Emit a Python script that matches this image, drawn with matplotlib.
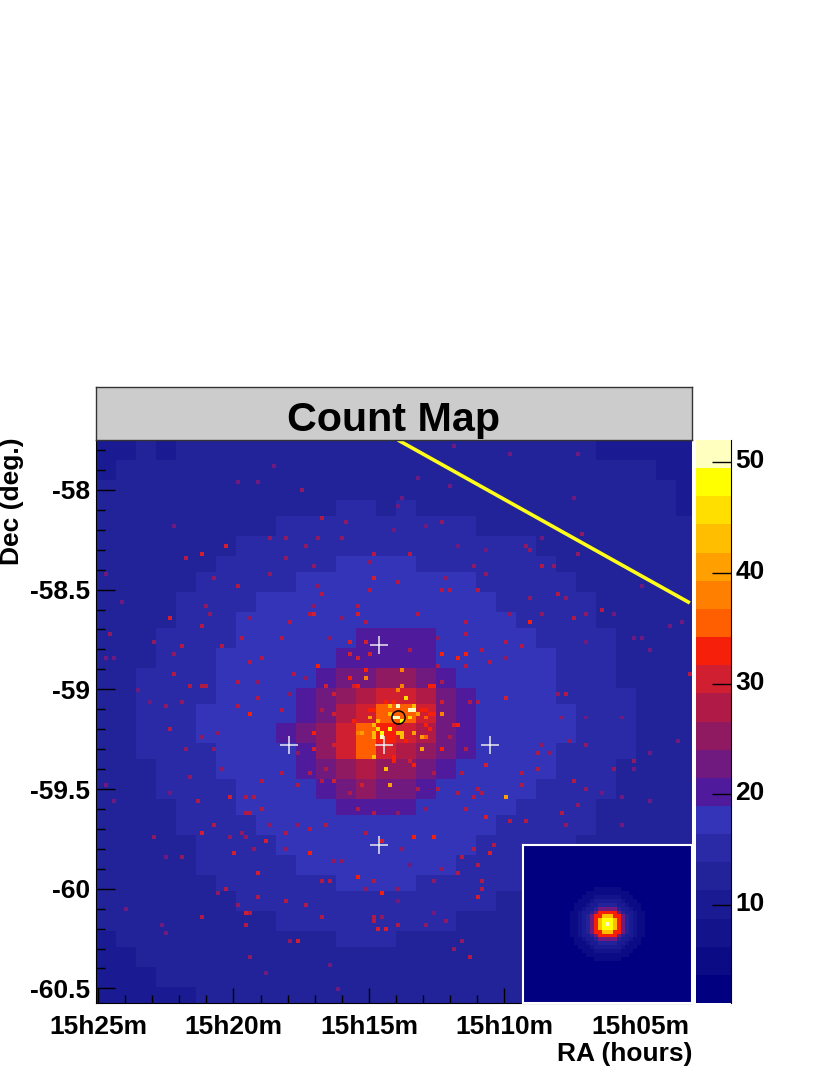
import numpy as np
import matplotlib
matplotlib.use('Agg')
from matplotlib import pyplot as plt
from matplotlib.colors import ListedColormap, BoundaryNorm
from matplotlib.transforms import ScaledTranslation

plt.rcParams['font.family'] = ['Liberation Sans', 'DejaVu Sans']
plt.rcParams['font.weight'] = 'bold'

W, H = 830, 1075

# band colours of the colour scale, bottom to top
band_colors = ['#000080', '#0b0b86', '#13138c', '#1a1a92', '#222299', '#2a2aa6', '#3434b8',
               '#501a9c', '#701a80', '#901a62', '#b01a46', '#d01f30', '#f51f0a', '#ff5f00',
               '#ff7f00', '#ffa000', '#ffbf00', '#ffdf00', '#ffff00', '#ffffbf']
scale_min, scale_max = 1.15, 52

ra_ticks = [25, 20, 15, 10, 5]
ra_labels = ['15h25m', '15h20m', '15h15m', '15h10m', '15h05m']
dec_ticks = [-58, -58.5, -59, -59.5, -60, -60.5]
dec_labels = ['-58', '-58.5', '-59', '-59.5', '-60', '-60.5']
cb_ticks = [10, 20, 30, 40, 50]

n_rows, n_cols = 141, 149

# local count level on a coarse 30x30 grid, estimated by eye
count_blocks = [
    [10.5, 11, 11.5, 11, 12, 12, 12, 12, 12, 12, 12.5, 12, 12.5, 12.5, 12.5, 12, 12.5, 12.5, 12, 12.5, 12, 12, 12, 11.5, 11.5, 11, 11, 11, 10.5, 10],
    [11, 11.5, 12, 12, 12, 12, 12.5, 12, 12.5, 12.5, 12.5, 12.5, 12.5, 12.5, 13.5, 12.5, 12.5, 12.5, 12.5, 12.5, 12.5, 12.5, 12, 12.5, 12, 12, 11.5, 11.5, 11, 10.5],
    [11.5, 12, 12, 12, 12.5, 12, 12.5, 12.5, 12.5, 12.5, 13.5, 13.5, 13.5, 13.5, 13.5, 13.5, 13.5, 12.5, 13.5, 12.5, 12.5, 12.5, 12.5, 12.5, 12.5, 12, 12, 11.5, 11.5, 11],
    [11.5, 12, 12, 12.5, 12.5, 12.5, 12.5, 13.5, 13.5, 13.5, 13.5, 13.5, 14.5, 14.5, 13.5, 14.5, 13.5, 13.5, 13.5, 13.5, 13.5, 13.5, 12.5, 12.5, 12.5, 12.5, 12, 12, 11.5, 11],
    [12, 12, 12.5, 12.5, 12.5, 13.5, 13.5, 13.5, 13.5, 14.5, 14.5, 14.5, 14.5, 14.5, 14.5, 14.5, 14.5, 14.5, 14.5, 13.5, 13.5, 13.5, 13.5, 13.5, 12.5, 12.5, 12.5, 12, 12, 11.5],
    [12, 12.5, 12.5, 12.5, 13.5, 13.5, 13.5, 14.5, 14.5, 14.5, 15.5, 15.5, 15.5, 15.5, 15.5, 15.5, 15.5, 15.5, 14.5, 14.5, 14.5, 14.5, 13.5, 13.5, 13.5, 12.5, 12.5, 12.5, 12, 11.5],
    [12, 12.5, 12.5, 13.5, 13.5, 13.5, 14.5, 14.5, 15.5, 15.5, 15.5, 15.5, 16.5, 16.5, 16.5, 16.5, 15.5, 15.5, 15.5, 15.5, 14.5, 14.5, 14.5, 13.5, 13.5, 13.5, 12.5, 12.5, 12, 11.5],
    [12.5, 12.5, 12.5, 13.5, 13.5, 14.5, 14.5, 15.5, 15.5, 15.5, 16.5, 16.5, 16.5, 16.5, 17.5, 16.5, 16.5, 16.5, 16.5, 15.5, 15.5, 14.5, 14.5, 14.5, 13.5, 13.5, 12.5, 12.5, 12.5, 12],
    [12.5, 12.5, 13.5, 13.5, 14.5, 14.5, 15.5, 15.5, 16.5, 16.5, 16.5, 17.5, 17.5, 17.5, 17.5, 17.5, 17.5, 17.5, 16.5, 16.5, 15.5, 15.5, 15.5, 14.5, 14.5, 13.5, 13.5, 12.5, 12.5, 12],
    [12.5, 12.5, 13.5, 13.5, 14.5, 14.5, 15.5, 16.5, 16.5, 16.5, 17.5, 17.5, 18.5, 18.5, 18.5, 18.5, 18.5, 17.5, 17.5, 16.5, 16.5, 15.5, 15.5, 14.5, 14.5, 13.5, 13.5, 12.5, 12.5, 12],
    [12.5, 13.5, 13.5, 14.5, 14.5, 15.5, 15.5, 16.5, 16.5, 17.5, 17.5, 18.5, 18.5, 19.5, 19.5, 19.5, 19.5, 18.5, 17.5, 17.5, 16.5, 16.5, 15.5, 15.5, 14.5, 14.5, 13.5, 13.5, 12.5, 12],
    [12.5, 13.5, 13.5, 14.5, 14.5, 15.5, 16.5, 16.5, 16.5, 17.5, 17.5, 18.5, 19.5, 19.5, 20.5, 20.5, 19.5, 18.5, 17.5, 17.5, 16.5, 16.5, 16.5, 15.5, 14.5, 14.5, 13.5, 13.5, 12.5, 12],
    [12.5, 13.5, 14.5, 14.5, 15.5, 15.5, 16.5, 16.5, 17.5, 17.5, 18.5, 19.5, 21.5, 23.5, 24.5, 25.5, 23.5, 20.5, 18.5, 17.5, 17.5, 16.5, 16.5, 15.5, 15.5, 14.5, 13.5, 13.5, 13, 12],
    [13.5, 13.5, 14.5, 14.5, 15.5, 15.5, 16.5, 17.5, 17.5, 18.5, 19.5, 21.5, 24.5, 27.5, 30.5, 31.5, 27.5, 22.5, 19.5, 18.5, 17.5, 17.5, 16.5, 15.5, 15.5, 14.5, 14.5, 13.5, 13, 12],
    [13.5, 13.5, 14.5, 14.5, 15.5, 16.5, 16.5, 17.5, 17.5, 18.5, 20.5, 23.5, 28.5, 31.5, 34.5, 35.5, 30.5, 23.5, 19.5, 18.5, 18.5, 17.5, 16.5, 16.5, 15.5, 14.5, 14.5, 13.5, 13, 12],
    [13.5, 13.5, 14.5, 14.5, 15.5, 16.5, 16.5, 17.5, 17.5, 19.5, 21.5, 25.5, 31.5, 34.5, 32.5, 30.5, 27.5, 22.5, 19.5, 18.5, 18.5, 17.5, 16.5, 16.5, 15.5, 14.5, 14.5, 13.5, 13, 12],
    [13.5, 13.5, 14.5, 14.5, 15.5, 15.5, 16.5, 17.5, 17.5, 18.5, 20.5, 24.5, 30.5, 34.5, 30.5, 27.5, 24.5, 21.5, 19.5, 18.5, 17.5, 17.5, 16.5, 15.5, 15.5, 14.5, 14.5, 13.5, 13, 12],
    [12.5, 13.5, 13.5, 14.5, 15.5, 15.5, 16.5, 16.5, 17.5, 18.5, 19.5, 22.5, 26.5, 28.5, 26.5, 24.5, 21.5, 19.5, 18.5, 18.5, 17.5, 16.5, 16.5, 15.5, 15.5, 14.5, 13.5, 13.5, 12.5, 12],
    [12.5, 13.5, 13.5, 14.5, 14.5, 15.5, 15.5, 16.5, 17.5, 17.5, 18.5, 20.5, 22.5, 24.5, 23.5, 21.5, 19.5, 18.5, 18.5, 17.5, 16.5, 16.5, 15.5, 15.5, 14.5, 14.5, 13.5, 13.5, 12.5, 12],
    [12.5, 12.5, 13.5, 13.5, 14.5, 14.5, 15.5, 16.5, 16.5, 17.5, 17.5, 18.5, 19.5, 20.5, 20.5, 19.5, 18.5, 17.5, 17.5, 16.5, 16.5, 15.5, 15.5, 14.5, 14.5, 13.5, 13.5, 12.5, 12.5, 12],
    [12.5, 12.5, 13.5, 13.5, 14.5, 14.5, 15.5, 15.5, 16.5, 16.5, 17.5, 17.5, 18.5, 18.5, 18.5, 18.5, 17.5, 17.5, 16.5, 16.5, 15.5, 15.5, 14.5, 14.5, 14.5, 13.5, 13.5, 12.5, 12.5, 11.5],
    [12.5, 12.5, 12.5, 13.5, 13.5, 14.5, 14.5, 15.5, 15.5, 16.5, 16.5, 17.5, 17.5, 17.5, 17.5, 17.5, 17.5, 16.5, 16.5, 15.5, 15.5, 14.5, 14.5, 14.5, 13.5, 13.5, 12.5, 12.5, 12.5, 11.5],
    [12, 12.5, 12.5, 13.5, 13.5, 14.5, 14.5, 14.5, 15.5, 15.5, 16.5, 16.5, 16.5, 17.5, 17.5, 16.5, 16.5, 16.5, 15.5, 15.5, 14.5, 14.5, 14.5, 13.5, 13.5, 12.5, 12.5, 12.5, 11.5, 11.5],
    [12, 12.5, 12.5, 12.5, 13.5, 13.5, 14.5, 14.5, 14.5, 15.5, 15.5, 15.5, 16.5, 16.5, 16.5, 16.5, 15.5, 15.5, 15.5, 14.5, 14.5, 14.5, 13.5, 13.5, 13.5, 12.5, 12.5, 11.5, 11.5, 11.5],
    [11.5, 12, 12.5, 12.5, 12.5, 13.5, 13.5, 14.5, 14.5, 14.5, 14.5, 15.5, 15.5, 15.5, 15.5, 15.5, 15.5, 14.5, 14.5, 14.5, 13.5, 13.5, 13.5, 12.5, 12.5, 12.5, 11.5, 11.5, 11.5, 11.5],
    [11.5, 11.5, 12, 12.5, 12.5, 12.5, 13.5, 13.5, 13.5, 14.5, 14.5, 14.5, 14.5, 14.5, 14.5, 14.5, 14.5, 14.5, 13.5, 13.5, 13.5, 13.5, 12.5, 12.5, 12.5, 11.5, 11.5, 11.5, 11.5, 10.5],
    [10.5, 11.5, 11.5, 12, 12.5, 12.5, 12.5, 12.5, 13.5, 13.5, 13.5, 13.5, 14.5, 14.5, 14.5, 13.5, 13.5, 13.5, 13.5, 13.5, 12.5, 12.5, 12.5, 12.5, 11.5, 11.5, 11.5, 11.5, 10.5, 10.5],
    [10.5, 10.5, 11.5, 11.5, 12, 12, 12.5, 12.5, 12.5, 12.5, 13.5, 13.5, 13.5, 13.5, 13.5, 13.5, 13.5, 12.5, 12.5, 12.5, 12.5, 12.5, 11.5, 11.5, 11.5, 11.5, 11.5, 10.5, 10.5, 10.5],
    [10.5, 10.5, 10.5, 11.5, 11.5, 11.5, 12, 12, 12.5, 12.5, 12.5, 12.5, 12.5, 12.5, 12.5, 12.5, 12.5, 12.5, 12.5, 11.5, 11.5, 11.5, 11.5, 11.5, 11.5, 10.5, 10.5, 10.5, 10.5, 10.5],
    [9.5, 10.5, 10.5, 10.5, 10.5, 11.5, 11.5, 11.5, 11.5, 12, 12, 12.5, 12.5, 12.5, 12.5, 12.5, 12, 11.5, 11.5, 11.5, 11.5, 11.5, 11.5, 10.5, 10.5, 10.5, 10.5, 10.5, 9.5, 9.5],
]

hot_core = [
    (77, 64, 46), (79, 67, 50), (78, 67, 50), (75, 66, 50), (73, 66, 42), (73, 68, 44), (74, 65, 32), (75, 69, 50),
    (74, 69, 50), (76, 70, 48), (79, 66, 44), (80, 68, 40), (78, 69, 46), (86, 68, 38), (68, 69, 40), (70, 70, 44),
    (69, 71, 44), (70, 72, 46), (69, 73, 44), (71, 73, 48), (71, 74, 50), (69, 74, 42), (73, 72, 48), (76, 73, 42),
    (75, 73, 42), (76, 74, 42), (79, 73, 40), (81, 74, 40), (66, 73, 40), (69, 79, 42), (81, 77, 40), (72, 82, 42),
    (73, 86, 40), (75, 62, 38), (76, 61, 38), (76, 57, 38), (67, 59, 38), (63, 59, 34), (83, 61, 34), (86, 53, 34),
    (90, 54, 34), (92, 53, 32), (68, 53, 30), (63, 53, 30), (67, 57, 32), (86, 60, 32), (90, 71, 34), (54, 73, 34),
    (97, 81, 30), (57, 61, 30), (64, 61, 30), (68, 67, 34), (64, 70, 34), (72, 76, 34), (74, 79, 32), (74, 80, 34),
    (77, 75, 34), (83, 72, 32), (82, 69, 34), (83, 68, 34), (82, 67, 34), (81, 67, 34), (86, 65, 32), (72, 65, 34),
    (69, 67, 34), (67, 76, 36), (68, 76, 36), (79, 81, 32), (59, 85, 32), (59, 76, 30),
]
hot_upper_left = [
    (32, 26, 31), (26, 28, 30), (22, 29, 28), (35, 36, 29), (29, 34, 26), (18, 44, 30), (3, 48, 26), (26, 46, 28),
    (14, 50, 26), (54, 43, 30), (53, 43, 28), (54, 41, 26), (55, 56, 33), (67, 59, 38), (65, 61, 33), (57, 61, 30),
    (69, 34, 30), (68, 37, 28), (65, 41, 28), (65, 43, 30), (63, 50, 30), (67, 50, 30), (65, 54, 30), (59, 63, 30),
    (43, 33, 26), (56, 38, 28), (56, 19, 27), (62, 20, 26), (51, 12, 25), (44, 6, 24), (47, 24, 26), (55, 24, 26),
    (52, 26, 26), (43, 24, 25), (35, 10, 23), (40, 10, 23), (19, 21, 23), (27, 41, 26), (28, 43, 25), (48, 45, 28),
    (38, 44, 26), (36, 49, 27), (46, 49, 27), (58, 49, 26), (61, 44, 26), (67, 45, 27), (19, 58, 27), (23, 61, 27),
    (26, 61, 29), (27, 61, 29), (35, 60, 27), (40, 60, 26), (49, 58, 27), (52, 59, 26), (38, 68, 32), (35, 66, 29),
    (40, 64, 28), (46, 67, 28), (48, 63, 26), (21, 65, 26), (17, 66, 25), (2, 54, 23), (4, 54, 23), (10, 62, 22),
    (13, 65, 23), (69, 28, 27), (68, 30, 25), (61, 24, 26), (55, 36, 26), (54, 31, 25), (47, 29, 26), (41, 54, 27),
    (38, 55, 28), (31, 51, 27), (21, 51, 27), (19, 53, 25), (6, 40, 22), (2, 33, 22), (68, 69, 41), (61, 67, 28),
    (59, 68, 30), (56, 67, 27),
]
hot_upper_right = [
    (108, 45, 33), (76, 57, 38), (75, 62, 38), (84, 61, 33), (126, 42, 28), (119, 44, 28), (148, 58, 28), (78, 28, 27),
    (80, 9, 24), (88, 11, 24), (103, 3, 23), (120, 3, 23), (89, 1, 23), (119, 14, 24), (121, 23, 26), (111, 24, 24),
    (107, 26, 26), (108, 27, 25), (111, 31, 27), (114, 31, 26), (95, 37, 29), (86, 37, 28), (88, 37, 28), (75, 35, 27),
    (87, 34, 26), (94, 31, 26), (97, 27, 24), (115, 38, 28), (108, 39, 26), (117, 39, 26), (111, 43, 26), (103, 43, 26),
    (92, 45, 28), (80, 43, 27), (102, 50, 29), (106, 51, 27), (92, 48, 28), (85, 49, 26), (96, 52, 28), (78, 52, 29),
    (98, 55, 27), (92, 56, 28), (85, 56, 29), (102, 54, 25), (122, 43, 26), (129, 43, 23), (134, 49, 24), (138, 52, 23),
    (136, 49, 23), (122, 50, 24), (86, 60, 27), (102, 64, 30), (115, 63, 26), (117, 63, 28), (93, 65, 28), (95, 65, 28),
    (82, 69, 35), (84, 68, 33), (86, 65, 30), (116, 69, 26), (122, 69, 24), (131, 69, 24), (120, 28, 25), (136, 36, 23),
    (146, 45, 23), (143, 46, 23), (76, 14, 22), (75, 16, 22), (74, 22, 23), (82, 21, 23), (86, 20, 26), (90, 26, 24),
    (97, 33, 25),
]
hot_lower_left = [
    (54, 73, 33), (54, 77, 30), (65, 73, 38), (65, 109, 32), (71, 113, 32), (70, 122, 31), (72, 122, 31), (40, 108, 31),
    (53, 103, 33), (34, 103, 31), (42, 100, 30), (47, 98, 29), (26, 98, 30), (29, 96, 27), (33, 89, 30), (37, 89, 28),
    (39, 89, 28), (41, 92, 29), (37, 93, 27), (38, 93, 27), (46, 83, 29), (41, 85, 27), (50, 86, 27), (56, 85, 29),
    (59, 85, 31), (59, 76, 30), (57, 82, 28), (53, 83, 27), (23, 84, 26), (22, 77, 26), (29, 77, 25), (26, 74, 26),
    (18, 72, 27), (30, 73, 26), (14, 99, 26), (21, 104, 26), (32, 112, 27), (30, 113, 25), (37, 118, 30), (38, 118, 29),
    (35, 116, 26), (40, 114, 27), (47, 115, 27), (52, 116, 28), (56, 119, 28), (37, 121, 28), (26, 119, 27), (50, 125, 30),
    (48, 125, 26), (38, 129, 26), (67, 98, 27), (71, 100, 31), (69, 93, 29), (65, 92, 28), (63, 88, 29), (66, 86, 30),
    (57, 96, 27), (53, 97, 27), (50, 96, 26), (43, 96, 26), (36, 98, 26), (37, 99, 26), (33, 99, 25), (39, 102, 26),
    (47, 102, 25), (59, 105, 26), (61, 105, 26), (56, 110, 28), (58, 110, 28), (69, 110, 27), (67, 112, 25), (69, 119, 28),
    (71, 119, 25), (69, 120, 27), (17, 104, 24), (2, 86, 24), (4, 90, 22), (7, 117, 22), (16, 121, 22), (17, 123, 22),
    (42, 133, 24), (60, 137, 24), (58, 131, 22), (25, 90, 28), (18, 88, 23), (31, 82, 26), (50, 78, 25),
]
hot_lower_right = [
    (102, 89, 40), (79, 99, 33), (84, 99, 32), (86, 77, 34), (78, 80, 30), (90, 88, 29), (95, 87, 29), (96, 88, 29),
    (106, 83, 27), (106, 86, 27), (110, 82, 27), (119, 85, 27), (116, 93, 28), (117, 96, 26), (107, 95, 28), (103, 95, 27),
    (97, 94, 30), (99, 101, 29), (98, 103, 30), (91, 104, 28), (94, 102, 28), (95, 106, 28), (90, 108, 28), (86, 107, 26),
    (84, 110, 26), (96, 110, 28), (96, 112, 27), (95, 114, 30), (93, 129, 29), (87, 120, 26), (91, 125, 26), (89, 127, 25),
    (82, 121, 25), (75, 121, 27), (75, 112, 25), (75, 115, 24), (84, 118, 24), (76, 102, 25), (78, 106, 24), (91, 83, 28),
    (84, 83, 29), (85, 87, 27), (80, 87, 27), (94, 89, 27), (82, 92, 26), (75, 93, 26), (92, 92, 27), (110, 78, 27),
    (113, 78, 26), (111, 76, 25), (118, 75, 25), (122, 76, 25), (134, 80, 26), (138, 78, 24), (129, 82, 25), (122, 87, 25),
    (126, 88, 24), (120, 91, 25), (131, 89, 24), (131, 96, 24), (138, 90, 23), (145, 75, 23), (134, 82, 22), (92, 77, 28),
    (88, 74, 29), (89, 71, 30), (82, 71, 34), (82, 74, 36),
]

# white crosses and source circle (RA minutes, Dec)
cross_ra = [14.63, 17.95, 14.45, 10.53, 14.63]
cross_dec = [-58.777, -59.28, -59.28, -59.28, -59.78]
source_ra, source_dec = [13.93], [-59.14]
line_ra = [13.93, 3.16]
line_dec = [-57.75, -58.567]

# PSF inset, central 21x21 bins by eye; rest of the inset stays at the low level
psf_radial_levels = [52, 48, 42, 32, 22, 13, 9, 6.5, 5, 4, 2]
psf_index = [
    [10, 10, 10, 10, 10, 10, 10, 10, 10, 10, 10, 10, 10, 10, 10, 10, 10, 10, 10, 10, 10],
    [10, 10, 10, 10, 10, 10, 10, 9, 9, 9, 9, 9, 9, 9, 10, 10, 10, 10, 10, 10, 10],
    [10, 10, 10, 10, 10, 9, 9, 8, 8, 8, 8, 8, 8, 8, 9, 9, 10, 10, 10, 10, 10],
    [10, 10, 10, 10, 9, 8, 8, 7, 7, 7, 7, 7, 7, 7, 8, 8, 9, 10, 10, 10, 10],
    [10, 10, 10, 9, 8, 8, 7, 6, 6, 6, 6, 6, 6, 6, 7, 8, 8, 9, 10, 10, 10],
    [10, 10, 9, 8, 8, 7, 6, 6, 5, 5, 5, 5, 5, 6, 6, 7, 8, 8, 9, 10, 10],
    [10, 10, 9, 8, 7, 6, 6, 5, 4, 4, 4, 4, 4, 5, 6, 6, 7, 8, 9, 10, 10],
    [10, 9, 8, 7, 6, 6, 5, 4, 3, 3, 3, 3, 3, 4, 5, 6, 6, 7, 8, 9, 10],
    [10, 9, 8, 7, 6, 5, 4, 3, 3, 2, 2, 2, 3, 3, 4, 5, 6, 7, 8, 9, 10],
    [10, 9, 8, 7, 6, 5, 4, 3, 2, 1, 1, 1, 2, 3, 4, 5, 6, 7, 8, 9, 10],
    [10, 9, 8, 7, 6, 5, 4, 3, 2, 1, 0, 1, 2, 3, 4, 5, 6, 7, 8, 9, 10],
    [10, 9, 8, 7, 6, 5, 4, 3, 2, 1, 1, 1, 2, 3, 4, 5, 6, 7, 8, 9, 10],
    [10, 9, 8, 7, 6, 5, 4, 3, 3, 2, 2, 2, 3, 3, 4, 5, 6, 7, 8, 9, 10],
    [10, 9, 8, 7, 6, 6, 5, 4, 3, 3, 3, 3, 3, 4, 5, 6, 6, 7, 8, 9, 10],
    [10, 10, 9, 8, 7, 6, 6, 5, 4, 4, 4, 4, 4, 5, 6, 6, 7, 8, 9, 10, 10],
    [10, 10, 9, 8, 8, 7, 6, 6, 5, 5, 5, 5, 5, 6, 6, 7, 8, 8, 9, 10, 10],
    [10, 10, 10, 9, 8, 8, 7, 6, 6, 6, 6, 6, 6, 6, 7, 8, 8, 9, 10, 10, 10],
    [10, 10, 10, 10, 9, 8, 8, 7, 7, 7, 7, 7, 7, 7, 8, 8, 9, 10, 10, 10, 10],
    [10, 10, 10, 10, 10, 9, 9, 8, 8, 8, 8, 8, 8, 8, 9, 9, 10, 10, 10, 10, 10],
    [10, 10, 10, 10, 10, 10, 10, 9, 9, 9, 9, 9, 9, 9, 10, 10, 10, 10, 10, 10, 10],
    [10, 10, 10, 10, 10, 10, 10, 10, 10, 10, 10, 10, 10, 10, 10, 10, 10, 10, 10, 10, 10],
]


def px_rect(x0, y0, x1, y1):
    # pixel box of the picture -> figure fractions
    return [x0 / W, 1 - y1 / H, (x1 - x0) / W, (y1 - y0) / H]


cmap = ListedColormap(band_colors)
norm = BoundaryNorm(np.linspace(scale_min, scale_max, 21), cmap.N)

fig = plt.figure(figsize=(W / 100, H / 100), dpi=100)

block_rows = np.arange(n_rows) * 30 // n_rows
block_cols = np.arange(n_cols) * 30 // n_cols
counts = np.array(count_blocks, dtype=float)[np.ix_(block_rows, block_cols)]
for col, row, val in hot_core + hot_upper_left + hot_upper_right + hot_lower_left + hot_lower_right:
    counts[row, col] = val

ax = fig.add_axes(px_rect(96, 440, 692, 1003))
im = ax.imshow(counts, extent=[25.07, 3.08, -60.573, -57.75], origin='upper', aspect='auto',
               cmap=cmap, norm=norm, interpolation='nearest')
ax.plot(line_ra, line_dec, color='#ffff1a', lw=2.6, solid_capstyle='butt')
ax.plot(cross_ra, cross_dec, ls='none', marker='+', ms=13, mew=1.1, color='#e8e8f0')
ax.plot(source_ra, source_dec, ls='none', marker='o', ms=9.5, mew=1.1, mfc='none', mec='black')

ax.set_xlim(25.07, 3.08)
ax.set_ylim(-60.573, -57.75)
ax.set_xticks(ra_ticks)
ax.set_xticklabels(ra_labels)
ax.set_xticks(np.arange(4, 26), minor=True)
ax.set_yticks(dec_ticks)
ax.set_yticklabels(dec_labels)
ax.set_yticks(np.arange(-60.5, -57.75, 0.1), minor=True)
ax.tick_params(axis='x', which='major', direction='in', length=10.8, width=1, labelsize=19, pad=9)
ax.tick_params(axis='x', which='minor', direction='in', length=5.8, width=1)
ax.tick_params(axis='y', which='major', direction='in', length=13.7, width=1, labelsize=19, pad=4)
ax.tick_params(axis='y', which='minor', direction='in', length=6.5, width=1)
ax.spines['top'].set_visible(False)
ax.spines['right'].set_visible(False)

title_ax = fig.add_axes(px_rect(96, 387, 692, 440))
title_ax.set_facecolor('#cccccc')
title_ax.set_xticks([])
title_ax.set_yticks([])
for s in title_ax.spines.values():
    s.set_color('#333333')
    s.set_linewidth(1)
title_ax.text(0.5, 0.38, 'Count Map', ha='center', va='center', fontsize=29.7, fontweight='bold',
              transform=title_ax.transAxes)

cax = fig.add_axes(px_rect(696, 440, 731, 1003))
cb = fig.colorbar(im, cax=cax, ticks=cb_ticks)
cb.outline.set_visible(False)
cax.minorticks_off()
cax.spines['right'].set_visible(True)
cax.spines['right'].set_color('black')
cax.tick_params(axis='y', direction='in', length=13.5, width=1, labelsize=19, pad=3)
shift_up = ScaledTranslation(0, 2.5 / 72, fig.dpi_scale_trans)
for label in cax.get_yticklabels():
    label.set_transform(label.get_transform() + shift_up)

inset = fig.add_axes(px_rect(523, 845, 692, 1003))
psf = np.full((41, 43), 1.5)
psf[10:31, 11:32] = np.array(psf_radial_levels)[np.array(psf_index)]
inset.imshow(psf, cmap=cmap, norm=norm, aspect='auto', interpolation='nearest')
inset.set_xticks([])
inset.set_yticks([])
for s in inset.spines.values():
    s.set_color('white')
    s.set_linewidth(1.5)

fig.text(692 / W, 1 - 1054 / H, 'RA (hours)', ha='right', va='center', fontsize=19, fontweight='bold')
fig.text(12 / W, 1 - 437 / H, 'Dec (deg.)', ha='center', va='top', rotation=90, fontsize=19, fontweight='bold')

plt.savefig('out.png', dpi=100)
